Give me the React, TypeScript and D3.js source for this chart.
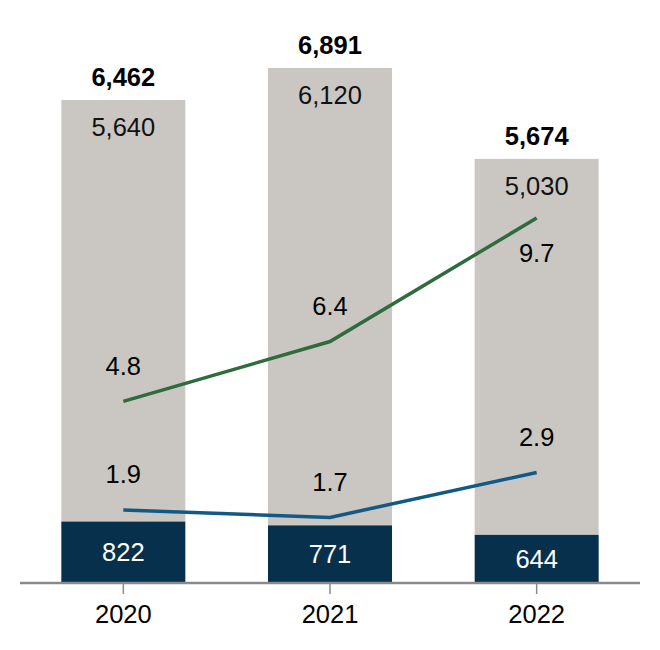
import React, { useRef, useEffect } from 'react';
import * as d3 from 'd3';

const YEARS = ['2020', '2021', '2022'];
const BASE_VALUES = [822, 771, 644];
const TOP_VALUES = [5640, 6120, 5030];
const GREEN_RATES = [4.8, 6.4, 9.7];
const BLUE_RATES = [1.9, 1.7, 2.9];
// label below the point for these indexes (green series)
const GREEN_LABEL_BELOW = [false, false, true];

const COLORS = {
  base: '#07304c',
  top: '#cac7c3',
  green: '#2f6b3c',
  blue: '#125a85',
  axis: '#8a8a8a',
};

const FONT = '"Liberation Sans", Arial, sans-serif';

export default function App() {
  const ref = useRef<SVGSVGElement | null>(null);

  useEffect(() => {
    const svg = d3.select(ref.current);
    svg.selectAll('*').remove();

    const width = 660;
    const height = 650;
    const baseline = 583;

    const x = d3.scaleBand<string>()
      .domain(YEARS)
      .range([20, 640])
      .paddingInner(0.4)
      .paddingOuter(0.2);

    const y = d3.scaleLinear().domain([0, 7800]).range([baseline, 0]);
    const y2 = d3.scaleLinear().domain([0, 15.5]).range([581, 1]);

    const fmt = d3.format(',');

    svg.attr('width', width).attr('height', height)
      .style('font-family', FONT);

    const data = YEARS.map((year, i) => ({
      year,
      base: BASE_VALUES[i],
      top: TOP_VALUES[i],
      total: BASE_VALUES[i] + TOP_VALUES[i],
    }));

    // Grey upper segment
    svg.append('g')
      .selectAll('rect')
      .data(data)
      .join('rect')
      .attr('x', d => x(d.year)!)
      .attr('y', d => y(d.total))
      .attr('width', x.bandwidth())
      .attr('height', d => y(d.base) - y(d.total))
      .attr('fill', COLORS.top);

    // Dark base segment
    svg.append('g')
      .selectAll('rect')
      .data(data)
      .join('rect')
      .attr('x', d => x(d.year)!)
      .attr('y', d => y(d.base))
      .attr('width', x.bandwidth())
      .attr('height', d => y(0) - y(d.base))
      .attr('fill', COLORS.base);

    // X axis
    const axis = svg.append('g')
      .attr('transform', `translate(0,${baseline})`)
      .call(d3.axisBottom(x).tickSize(11).tickPadding(10).tickSizeOuter(0));
    axis.select('.domain').remove();
    axis.append('line')
      .attr('x1', 20).attr('x2', 640)
      .attr('stroke', COLORS.axis)
      .attr('stroke-width', 2.5);
    axis.selectAll('.tick line')
      .attr('stroke', COLORS.axis)
      .attr('stroke-width', 1.5);
    axis.selectAll('.tick text')
      .attr('font-family', FONT)
      .attr('font-size', 25.5)
      .attr('fill', '#000')
      .attr('dy', null)
      .attr('y', 40);

    const cx = (year: string) => x(year)! + x.bandwidth() / 2;

    // Segment labels
    svg.append('g')
      .selectAll('text')
      .data(data)
      .join('text')
      .attr('x', d => cx(d.year))
      .attr('y', d => y(d.total) + 36)
      .attr('text-anchor', 'middle')
      .attr('font-size', 25.5)
      .attr('fill', '#111')
      .text(d => fmt(d.top));

    svg.append('g')
      .selectAll('text')
      .data(data)
      .join('text')
      .attr('x', d => cx(d.year))
      .attr('y', d => (y(d.base) + y(0)) / 2 + 9)
      .attr('text-anchor', 'middle')
      .attr('font-size', 25.5)
      .attr('fill', '#fff')
      .text(d => fmt(d.base));

    // Totals
    svg.append('g')
      .selectAll('text')
      .data(data)
      .join('text')
      .attr('x', d => cx(d.year))
      .attr('y', d => y(d.total) - 14)
      .attr('text-anchor', 'middle')
      .attr('font-size', 25.5)
      .attr('font-weight', 'bold')
      .attr('fill', '#000')
      .text(d => fmt(d.total));

    // Lines
    const line = d3.line<number>()
      .x((_, i) => cx(YEARS[i]))
      .y(d => y2(d));

    svg.append('path')
      .datum(BLUE_RATES)
      .attr('d', line)
      .attr('fill', 'none')
      .attr('stroke', COLORS.blue)
      .attr('stroke-width', 3.5);

    svg.append('path')
      .datum(GREEN_RATES)
      .attr('d', line)
      .attr('fill', 'none')
      .attr('stroke', COLORS.green)
      .attr('stroke-width', 3.5);

    // Line labels
    svg.append('g')
      .selectAll('text')
      .data(BLUE_RATES)
      .join('text')
      .attr('x', (_, i) => cx(YEARS[i]))
      .attr('y', d => y2(d) - 26.5)
      .attr('text-anchor', 'middle')
      .attr('font-size', 25.5)
      .attr('fill', '#000')
      .text(d => d.toFixed(1));

    svg.append('g')
      .selectAll('text')
      .data(GREEN_RATES)
      .join('text')
      .attr('x', (_, i) => cx(YEARS[i]))
      .attr('y', (d, i) => y2(d) + (GREEN_LABEL_BELOW[i] ? 44 : -26.5))
      .attr('text-anchor', 'middle')
      .attr('font-size', 25.5)
      .attr('fill', '#000')
      .text(d => d.toFixed(1));
  }, []);

  return (
    <svg
      ref={ref}
      style={{ position: 'absolute', left: 0, top: 0, display: 'block' }}
    />
  );
}
